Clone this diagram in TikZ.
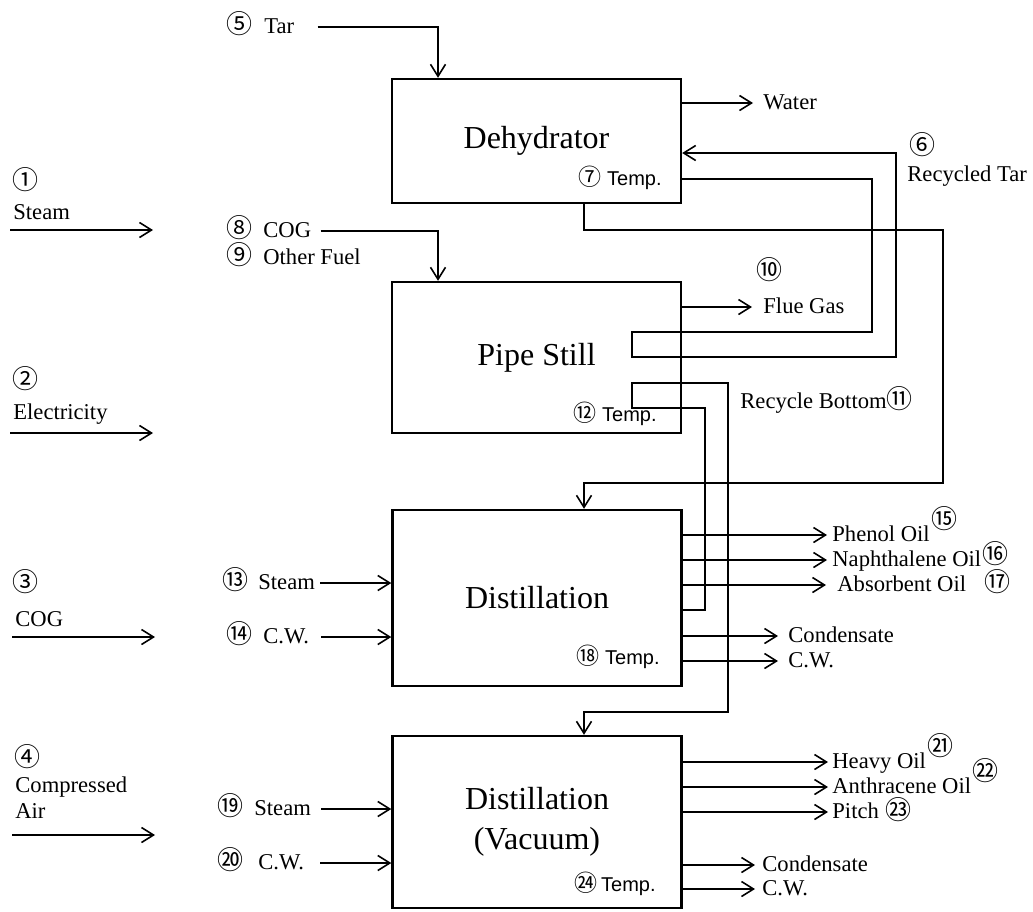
\documentclass[tikz,border=0pt]{standalone}
\usepackage{fontspec}
\setmainfont{Liberation Serif}
\newfontfamily\tempfont{Liberation Sans}
\newfontfamily\cjk[Scale=1.15]{Noto Sans CJK JP}
\usetikzlibrary{arrows.meta, positioning}
\newcommand{\cn}[1]{{\cjk #1}}

\begin{document}
\begin{tikzpicture}[x=0.5pt, y=-0.5pt, >={Straight Barb[length=6pt,width=7.5pt]},
  font=\fontsize{11.3pt}{13pt}\selectfont,
  unit/.style={draw, line width=1.2pt, inner sep=0pt, minimum width=144.5pt, align=center, font=\fontsize{16pt}{20pt}\selectfont},
  flow/.style={line width=0.8pt, ->},
  lbl/.style={inner sep=0pt, anchor=west, text height=1.5ex, text depth=0pt},
  temp/.style={inner sep=0pt, anchor=east, text height=1.5ex, text depth=0pt, font=\fontsize{10pt}{12pt}\selectfont\tempfont}]
  \useasboundingbox (0,0) rectangle (1033,911);

  % Units
  \node[unit, minimum height=62pt] (dehy) at (536.5,141) {Dehydrator};
  \node[unit, minimum height=75.5pt] (pipe) at (536.5,357.5) {Pipe Still};
  \node[unit, minimum height=88pt] (dist) at (537,598) {Distillation};
  \node[unit, minimum height=86pt] (vac) at (537,822) {Distillation\\(Vacuum)};

  % Pipe columns
  \coordinate (xfeed) at (438,0);
  \coordinate (xdraw) at (584,0);
  \coordinate (xcoil) at (632,0);
  \coordinate (xrb1) at (705,0);
  \coordinate (xrb2) at (728,0);
  \coordinate (xt1) at (872,0);
  \coordinate (xt2) at (896,0);
  \coordinate (xrt) at (943,0);

  % Utilities
  \node[lbl] (u1) at (12,183) {\cn{①}};
  \node[lbl] (u1t) at (13,213) {Steam};
  \coordinate (u1a) at (10,230); \coordinate (u1b) at (153,230);
  \draw[flow] (u1a) -- (u1b);
  \node[lbl] (u2) at (12,382) {\cn{②}};
  \node[lbl] (u2t) at (13,413) {Electricity};
  \coordinate (u2a) at (10,433); \coordinate (u2b) at (153,433);
  \draw[flow] (u2a) -- (u2b);
  \node[lbl] (u3) at (12,585) {\cn{③}};
  \node[lbl] (u3t) at (15,620) {COG};
  \coordinate (u3a) at (12,637); \coordinate (u3b) at (155,637);
  \draw[flow] (u3a) -- (u3b);
  \node[lbl] (u4) at (14,760) {\cn{④}};
  \node[lbl] (u4t) at (15,786) {Compressed};
  \node[lbl] (u4s) at (15,812) {Air};
  \coordinate (u4a) at (12,835); \coordinate (u4b) at (155,835);
  \draw[flow] (u4a) -- (u4b);

  % Dehydrator
  \node[lbl] (tar) at (226,27) {\cn{⑤}\hspace{6pt}Tar};
  \draw[flow] ([xshift=11.5pt]tar.east) -| (xfeed |- dehy.north);
  \node[lbl] (water) at (763,103) {Water};
  \draw[flow] (dehy.east |- water) -- ([xshift=-5pt]water.west);
  \node[lbl] (n6) at (909,148) {\cn{⑥}};
  \node[lbl] (rtar) at (907,175) {Recycled Tar};
  \node[temp] (t7) at (662,179) {\cn{⑦}\hspace{3pt}Temp.};

  % Pipe still
  \node[lbl] (cog) at (226,231) {\cn{⑧}\hspace{5.5pt}COG};
  \node[lbl] (fuel) at (226,258) {\cn{⑨}\hspace{5.5pt}Other Fuel};
  \draw[flow] ([xshift=4.5pt]cog.east) -| (xfeed |- pipe.north);
  \node[lbl] (n10) at (756,273) {\cn{⑩}};
  \node[lbl] (flue) at (763,307) {Flue Gas};
  \draw[flow] (pipe.east |- flue) -- ([xshift=-5.5pt]flue.west);
  \node[lbl] (rbot) at (740,402) {Recycle Bottom\cn{⑪}};
  \node[temp] (t12) at (657,415) {\cn{⑫}\hspace{3pt}Temp.};

  % Recycled tar through the coil
  \draw[flow] (dehy.east |- 0,179) -| (xt1 |- 0,332) -| (xcoil |- 0,357)
    -| (xt2 |- 0,153) -- (dehy.east |- 0,153);
  % Dehydrated tar to distillation
  \draw[flow] (xdraw |- dehy.south) |- (xrt |- 0,230) |- (xdraw |- 0,483)
    -- (xdraw |- dist.north);
  % Recycle bottom through the coil to vacuum
  \draw[flow] (dist.east |- 0,610) -| (xrb1 |- 0,408) -| (xcoil |- 0,383)
    -| (xrb2 |- 0,712) -| (xdraw |- vac.north);

  % Distillation
  \node[lbl] (s13) at (222,583) {\cn{⑬}\hspace{5pt}Steam};
  \draw[flow] ([xshift=2.5pt]s13.east) -- (s13 -| dist.west);
  \node[lbl] (cw14) at (226,637) {\cn{⑭}\hspace{5.5pt}C.W.};
  \draw[flow] ([xshift=6pt]cw14.east) -- (cw14 -| dist.west);
  \node[lbl] (phenol) at (832,535) {Phenol Oil};
  \node[lbl, right=0.5pt of phenol, yshift=6.5pt] (n15) {\cn{⑮}};
  \node[lbl] (naph) at (832,560) {Naphthalene Oil};
  \node[lbl, right=0.5pt of naph, yshift=1.5pt] (n16) {\cn{⑯}};
  \node[lbl] (absorb) at (837,585) {Absorbent Oil};
  \node[lbl] (n17) at (984,585) {\cn{⑰}};
  \node[lbl] (cond1) at (788,636) {Condensate};
  \node[lbl] (cw1) at (788,661) {C.W.};
  \node[temp] (t18) at (660,658) {\cn{⑱}\hspace{3pt}Temp.};
  \foreach \o/\g in {phenol/2.5pt, naph/2.5pt, absorb/5.5pt, cond1/5pt, cw1/5pt}
    \draw[flow] (dist.east |- \o) -- ([xshift=-\g]\o.west);

  % Vacuum distillation
  \node[lbl] (s19) at (217,809) {\cn{⑲}\hspace{5.5pt}Steam};
  \draw[flow] ([xshift=5pt]s19.east) -- (s19 -| vac.west);
  \node[lbl] (cw20) at (217,863) {\cn{⑳}\hspace{7.5pt}C.W.};
  \draw[flow] ([xshift=8pt]cw20.east) -- (cw20 -| vac.west);
  \node[lbl] (heavy) at (832,762) {Heavy Oil};
  \node[lbl, right=0.5pt of heavy, yshift=6.5pt] (n21) {\cn{㉑}};
  \node[lbl] (anth) at (832,787) {Anthracene Oil};
  \node[lbl, right=0.5pt of anth, yshift=6.5pt] (n22) {\cn{㉒}};
  \node[lbl] (pitch) at (832,812) {Pitch};
  \node[lbl, right=3pt of pitch, yshift=-0.5pt] (n23) {\cn{㉓}};
  \node[lbl] (cond2) at (762,865) {Condensate};
  \node[lbl] (cw2) at (762,889) {C.W.};
  \node[temp] (t24) at (656,885) {\cn{㉔}\hspace{2pt}Temp.};
  \foreach \o/\g in {heavy/2pt, anth/2pt, pitch/2pt, cond2/3.5pt, cw2/3.5pt}
    \draw[flow] (vac.east |- \o) -- ([xshift=-\g]\o.west);
\end{tikzpicture}
\end{document}
